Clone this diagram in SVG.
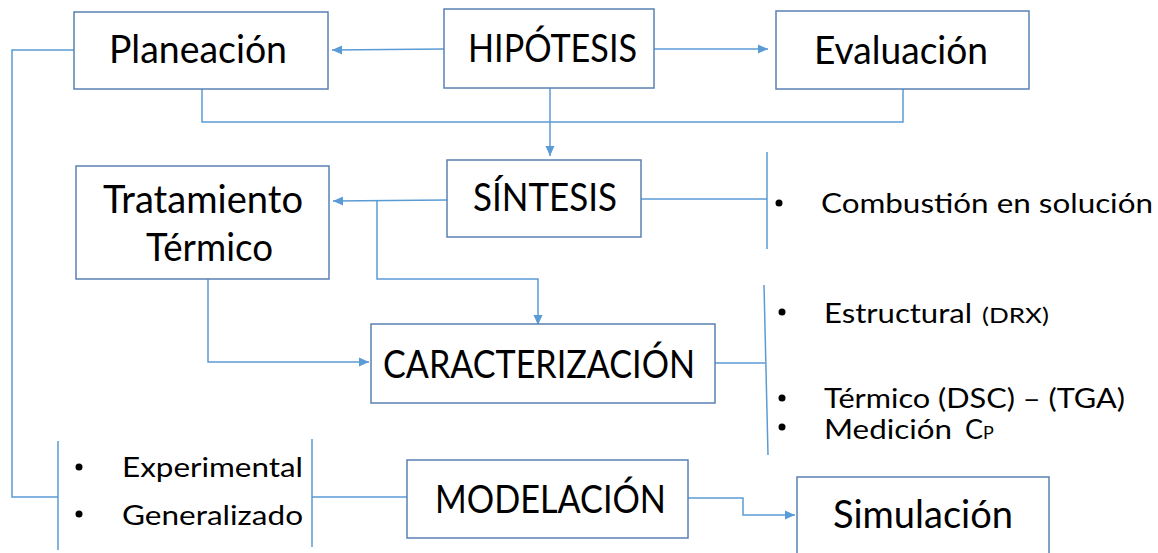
<svg xmlns="http://www.w3.org/2000/svg" width="1158" height="553" viewBox="0 0 1158 553">
<style>
.box{fill:#fff;stroke:#5a80b4;stroke-width:1.5}
.c{fill:none;stroke:#5b9bd5;stroke-width:1.5}
.t{font-family:Lato,"Liberation Sans",sans-serif;font-size:38px;fill:#000}
.s{font-family:Lato,"Liberation Sans",sans-serif;font-size:27px;fill:#000}
.b{fill:#000}
</style>
<defs>
<marker id="ah" markerUnits="userSpaceOnUse" markerWidth="10" markerHeight="10" viewBox="0 0 10 10" refX="10" refY="5" orient="auto">
<path d="M0,0.5 L10,5 L0,9.5 Z" fill="#5b9bd5"/>
</marker>
</defs>
<rect width="1158" height="553" fill="#fff"/>
<g id="connectors">
<path class="c" d="M444,49 L332,50" marker-end="url(#ah)"/>
<path class="c" d="M654,49 L768,49" marker-end="url(#ah)"/>
<path class="c" d="M202,89 V122 H903 V89"/>
<path class="c" d="M550,88 V156" marker-end="url(#ah)"/>
<path class="c" d="M447,200 L333,201" marker-end="url(#ah)"/>
<path class="c" d="M377,201 V279 H538 V325" marker-end="url(#ah)"/>
<path class="c" d="M208,279 V362 H369" marker-end="url(#ah)"/>
<path class="c" d="M641,199 H767 M767,152 V249"/>
<path class="c" d="M715,363 H765 M764,285 L768,455"/>
<path class="c" d="M74,50 H12 V497 H58 M58,441 V550"/>
<path class="c" d="M312,439 V547 M312,497 H407"/>
<path class="c" d="M688,498 H743 V515 H795" marker-end="url(#ah)"/>
</g>
<g id="planeacion">
<rect class="box" x="74" y="12" width="254" height="77"/>
<text class="t" x="109" y="63" textLength="178" lengthAdjust="spacingAndGlyphs">Planeación</text>
</g>
<g id="hipotesis">
<rect class="box" x="444" y="9" width="210" height="79"/>
<text class="t" x="468" y="62" textLength="169" lengthAdjust="spacingAndGlyphs">HIPÓTESIS</text>
</g>
<g id="evaluacion">
<rect class="box" x="776" y="11" width="253" height="78"/>
<text class="t" x="814" y="64" textLength="174" lengthAdjust="spacingAndGlyphs">Evaluación</text>
</g>
<g id="sintesis">
<rect class="box" x="447" y="160" width="194" height="77"/>
<text class="t" x="473" y="211" textLength="144" lengthAdjust="spacingAndGlyphs">SÍNTESIS</text>
</g>
<g id="tratamiento">
<rect class="box" x="76" y="166" width="253" height="113"/>
<text class="t" x="103" y="213" textLength="200" lengthAdjust="spacingAndGlyphs">Tratamiento</text>
<text class="t" x="146" y="261" textLength="127" lengthAdjust="spacingAndGlyphs">Térmico</text>
</g>
<g id="caracterizacion">
<rect class="box" x="371" y="324" width="344" height="79"/>
<text class="t" x="383" y="378" textLength="312" lengthAdjust="spacingAndGlyphs">CARACTERIZACIÓN</text>
</g>
<g id="modelacion">
<rect class="box" x="407" y="460" width="281" height="78"/>
<text class="t" x="435" y="513" textLength="231" lengthAdjust="spacingAndGlyphs">MODELACIÓN</text>
</g>
<g id="simulacion">
<rect class="box" x="797" y="477" width="252" height="100"/>
<text class="t" x="833" y="528" textLength="180" lengthAdjust="spacingAndGlyphs">Simulación</text>
</g>
<g id="sintesis-list">
<circle class="b" cx="779" cy="203" r="3.5"/>
<text class="s" x="821" y="213" textLength="332" lengthAdjust="spacingAndGlyphs">Combustión en solución</text>
</g>
<g id="caracterizacion-list">
<circle class="b" cx="782" cy="312" r="3.5"/>
<text class="s" x="824" y="323"><tspan textLength="148" lengthAdjust="spacingAndGlyphs">Estructural</tspan><tspan x="982" font-size="22" textLength="67" lengthAdjust="spacingAndGlyphs">(DRX)</tspan></text>
<circle class="b" cx="782" cy="398" r="3.5"/>
<text class="s" x="824" y="408" textLength="301" lengthAdjust="spacingAndGlyphs">Térmico (DSC) – (TGA)</text>
<circle class="b" cx="782" cy="427" r="3.5"/>
<text class="s" x="824" y="439"><tspan textLength="128" lengthAdjust="spacingAndGlyphs">Medición</tspan><tspan x="965">C</tspan><tspan font-size="18">P</tspan></text>
</g>
<g id="modelacion-list">
<circle class="b" cx="79" cy="467" r="3.5"/>
<text class="s" x="122" y="477" textLength="181" lengthAdjust="spacingAndGlyphs">Experimental</text>
<circle class="b" cx="79" cy="514" r="3.5"/>
<text class="s" x="122" y="525" textLength="181" lengthAdjust="spacingAndGlyphs">Generalizado</text>
</g>
</svg>
